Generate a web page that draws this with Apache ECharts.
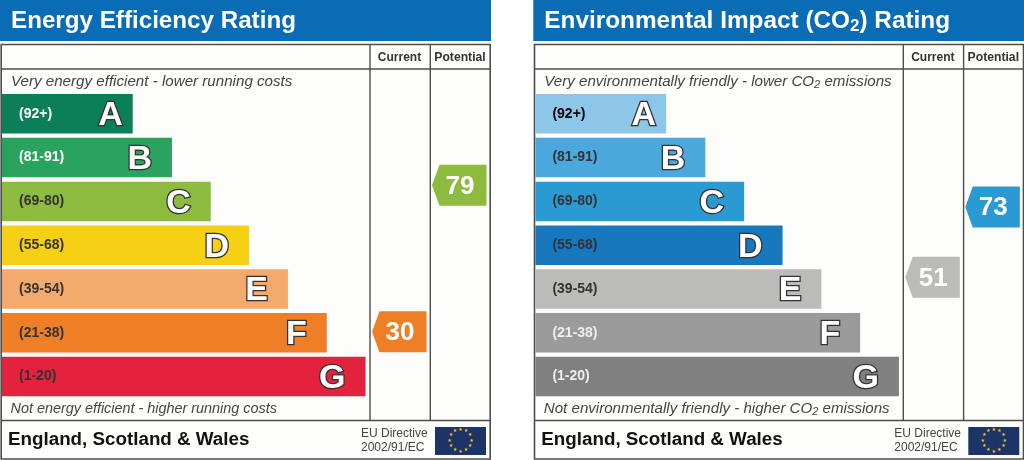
<!DOCTYPE html>
<html><head><meta charset="utf-8">
<style>html,body{margin:0;padding:0;background:#fff}#c{width:1024px;height:460px}</style>
<script src="https://cdn.jsdelivr.net/npm/echarts@6/dist/echarts.min.js"></script>
</head><body><div id="c"></div>
<script>
var letters = ['A','B','C','D','E','F','G'];
var ranges = ['(92+)','(81-91)','(69-80)','(55-68)','(39-54)','(21-38)','(1-20)'];
var bandHigh = [100,91,80,68,54,38,20];
var bandLow = [92,81,69,55,39,21,1];
var barLengths = [33.7,43.8,53.8,63.7,73.7,83.7,93.7];
var columns = ['Current','Potential'];
var energyColors = ['#0d7f58','#2aa35e','#8dbb40','#f5d015','#f4aa6c','#ee7f26','#e3223d'];
var energyRangeText = ['#fff','#fff','#333','#333','#333','#333','#333'];
var co2Colors = ['#8cc6e8','#4aa8dc','#2b9ad2','#1878bd','#bbbbb9','#9b9b9b','#808080'];
var co2RangeText = ['#000','#333','#333','#333','#333','#eee','#eee'];
var energyScores = [30,79];
var co2Scores = [51,73];
var energyTitle = 'Energy Efficiency Rating';
var co2Title = '{a|Environmental Impact (CO}{s|2}{a|) Rating}';
var energyTop = '{a|Very energy efficient - lower running costs}';
var energyBottom = '{a|Not energy efficient - higher running costs}';
var co2Top = '{a|Very environmentally friendly - lower CO}{s|2}{a| emissions}';
var co2Bottom = '{a|Not environmentally friendly - higher CO}{s|2}{a| emissions}';
var footer = 'England, Scotland & Wales';
var directive = ['EU Directive','2002/91/EC'];

var FONT = '"Liberation Sans", Arial, sans-serif';
var grids=[],xAxes=[],yAxes=[],series=[],graphics=[];

function rowOf(s){
  for(var i=0;i<7;i++){ if(s>=bandLow[i]) return i+0.05+0.91*(bandHigh[i]-s)/(bandHigh[i]-bandLow[i]); }
  return 6.9;
}
function scoreColor(s,colors){
  for(var i=0;i<7;i++){ if(s>=bandLow[i]) return colors[i]; }
  return colors[6];
}
function richItalic(size){
  return {a:{fill:'#444',font:'italic '+size+'px '+FONT},s:{fill:'#444',font:'italic 11px '+FONT,padding:[6,0,0,0]}};
}
function panel(dx,colors,rangeText,scores,title,topT,bottomT,barLeft,colLeft,titleSize,topSize,bottomSize){
  var g=grids.length;
  grids.push({left:barLeft,top:91.9,width:388,height:306.6});
  grids.push({left:colLeft,top:91.9,width:120,height:306.6});
  xAxes.push({gridIndex:g,type:'value',min:0,max:100,show:false});
  xAxes.push({gridIndex:g+1,type:'category',data:columns,show:false});
  yAxes.push({gridIndex:g,type:'category',data:letters,inverse:true,show:false});
  yAxes.push({gridIndex:g+1,type:'value',min:0,max:7,inverse:true,show:false});
  series.push({type:'bar',xAxisIndex:g,yAxisIndex:g,barWidth:39.5,silent:true,z:2,
    data:barLengths.map(function(v,i){return {value:v,itemStyle:{color:colors[i]},
      label:{color:rangeText[i]}};}),
    label:{show:true,position:'insideLeft',distance:17,fontFamily:FONT,fontWeight:'bold',fontSize:14,
      formatter:function(p){return ranges[p.dataIndex];}}});
  series.push({type:'bar',xAxisIndex:g,yAxisIndex:g,barWidth:39.5,barGap:'-100%',silent:true,z:3,
    data:barLengths.map(function(v,i){return {value:v,itemStyle:{color:'transparent'},
      label:{distance:i===0?10:20}};}),
    label:{show:true,position:'insideRight',offset:[0,2],fontFamily:FONT,fontWeight:'bold',fontSize:34,color:'#fff',
      textBorderColor:'#333',textBorderWidth:2.6,
      formatter:function(p){return letters[p.dataIndex];}}});
  series.push({type:'custom',xAxisIndex:g+1,yAxisIndex:g+1,silent:true,z:4,
    data:scores.map(function(s,i){return [i,rowOf(s),s];}),
    encode:{x:0,y:1},
    renderItem:function(params,api){
      var p=api.coord([api.value(0),api.value(1)]);
      var s=api.value(2),cx=p[0]-0.5,cy=p[1];
      return {type:'group',children:[
        {type:'polygon',shape:{points:[[cx-27.5,cy],[cx-20,cy-20.5],[cx+27,cy-20.5],[cx+27,cy+20.5],[cx-20,cy+20.5]]},
          style:{fill:scoreColor(s,colors)}},
        {type:'text',style:{x:cx+0.5,y:cy+1.2,text:String(s),fill:'#fff',align:'center',verticalAlign:'middle',
          font:'bold 26px '+FONT}}
      ]};
    }});
  var ch=[];
  var line='#4d4d4d';
  ch.push({type:'rect',shape:{x:0,y:0,width:491,height:41},style:{fill:'#0a6cb4'}});
  ch.push({type:'rect',shape:{x:1.2,y:44.5,width:489,height:414.5},style:{fill:'#fdfdfb',stroke:line,lineWidth:1.6}});
  ch.push({type:'line',shape:{x1:1,y1:69,x2:490,y2:69},style:{stroke:line,lineWidth:1.4}});
  ch.push({type:'line',shape:{x1:1,y1:420.5,x2:490,y2:420.5},style:{stroke:line,lineWidth:1.4}});
  ch.push({type:'line',shape:{x1:370,y1:44,x2:370,y2:420.5},style:{stroke:line,lineWidth:1.4}});
  ch.push({type:'line',shape:{x1:430.3,y1:44,x2:430.3,y2:420.5},style:{stroke:line,lineWidth:1.4}});
  ch.push({type:'text',style:{x:11,y:21,text:title,fill:'#fff',font:'bold '+titleSize+'px '+FONT,verticalAlign:'middle',
    rich:{a:{fill:'#fff',font:'bold '+titleSize+'px '+FONT},s:{fill:'#fff',font:'bold 17px '+FONT,padding:[10,0,0,0]}}}});
  ch.push({type:'text',style:{x:11,y:82,text:topT,verticalAlign:'middle',rich:richItalic(topSize)}});
  ch.push({type:'text',style:{x:10.5,y:408.5,text:bottomT,verticalAlign:'middle',rich:richItalic(bottomSize)}});
  ch.push({type:'text',style:{x:399.5,y:57.5,text:columns[0],fill:'#333',align:'center',verticalAlign:'middle',font:'bold 12px '+FONT}});
  ch.push({type:'text',style:{x:460,y:57.5,text:columns[1],fill:'#333',align:'center',verticalAlign:'middle',font:'bold 12.2px '+FONT}});
  ch.push({type:'text',style:{x:8,y:439.5,text:footer,fill:'#111',verticalAlign:'middle',font:'bold 18.8px '+FONT}});
  ch.push({type:'text',style:{x:361,y:434,text:directive[0],fill:'#444',verticalAlign:'middle',font:'12px '+FONT}});
  ch.push({type:'text',style:{x:361,y:448,text:directive[1],fill:'#444',verticalAlign:'middle',font:'12px '+FONT}});
  ch.push({type:'rect',shape:{x:435,y:427,width:51,height:28},style:{fill:'#1c3468'}});
  for(var k=0;k<12;k++){
    var a=k*Math.PI/6,sx=460.7+Math.sin(a)*11,sy=440.7-Math.cos(a)*11;
    ch.push({type:'text',style:{x:sx,y:sy,text:'★',fill:'#f2c81e',align:'center',verticalAlign:'middle',font:'4.8px "DejaVu Sans"'}});
  }
  graphics.push({type:'group',x:dx,y:0,z:-1,children:ch});
}
panel(0,energyColors,energyRangeText,energyScores,energyTitle,energyTop,energyBottom,2,370,24.2,15.15,14.4);
panel(533.3,co2Colors,co2RangeText,co2Scores,co2Title,co2Top,co2Bottom,535.4,903.3,24.35,15.12,15.1);

var chart=echarts.init(document.getElementById('c'),null,{renderer:'canvas'});
chart.setOption({animation:false,backgroundColor:'#fff',grid:grids,xAxis:xAxes,yAxis:yAxes,series:series,graphic:graphics,tooltip:{show:false}});
</script></body></html>
